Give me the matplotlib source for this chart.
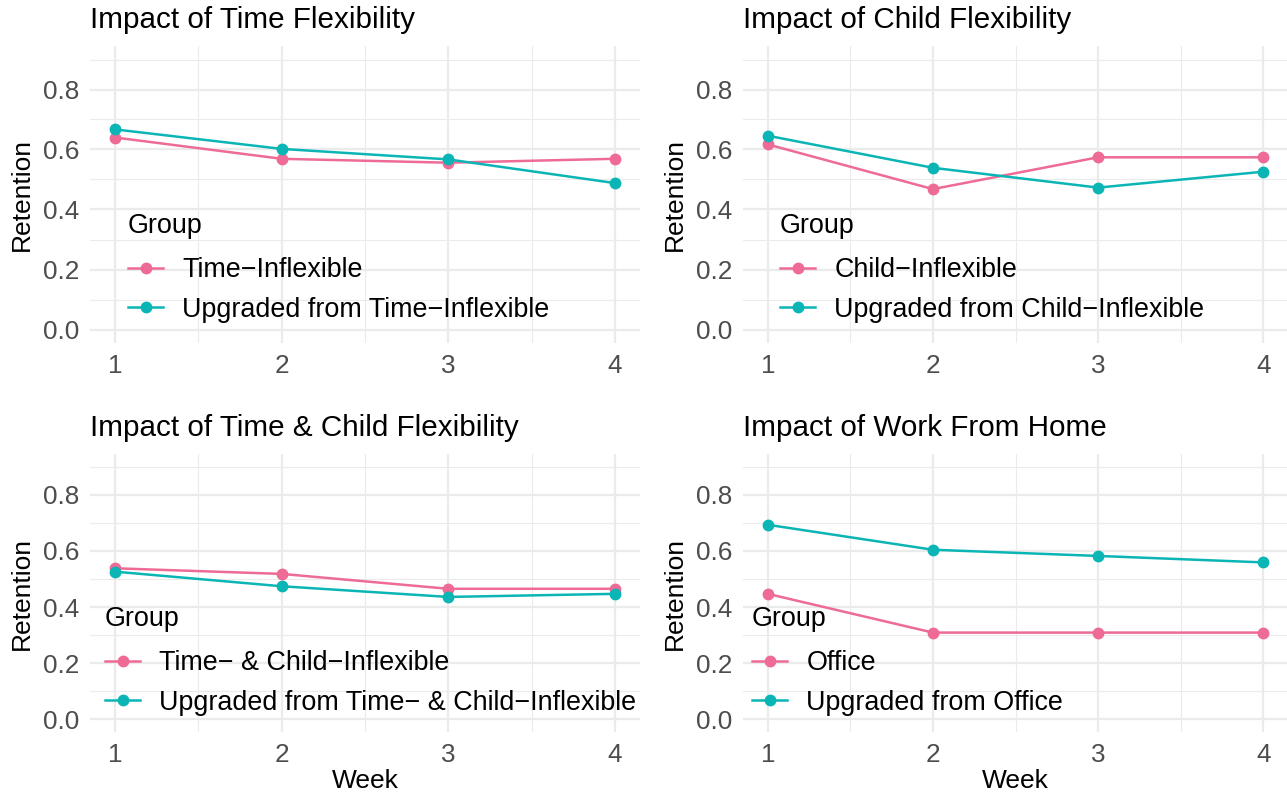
import matplotlib
matplotlib.use("Agg")
import matplotlib.pyplot as plt
from matplotlib.ticker import MultipleLocator

plt.rcParams['font.family'] = ['Liberation Sans', 'DejaVu Sans']

weeks = [1, 2, 3, 4]

titles = ["Impact of Time Flexibility", "Impact of Child Flexibility",
          "Impact of Time & Child Flexibility", "Impact of Work From Home"]

base_labels = ["Time\u2212Inflexible", "Child\u2212Inflexible",
               "Time\u2212 & Child\u2212Inflexible", "Office"]
upgraded_labels = ["Upgraded from Time\u2212Inflexible",
                   "Upgraded from Child\u2212Inflexible",
                   "Upgraded from Time\u2212 & Child\u2212Inflexible",
                   "Upgraded from Office"]

time_inflexible = [0.640, 0.569, 0.556, 0.569]
time_upgraded = [0.667, 0.602, 0.567, 0.488]
child_inflexible = [0.617, 0.468, 0.574, 0.574]
child_upgraded = [0.646, 0.539, 0.473, 0.526]
both_inflexible = [0.538, 0.518, 0.465, 0.465]
both_upgraded = [0.526, 0.474, 0.436, 0.447]
office = [0.447, 0.309, 0.309, 0.309]
office_upgraded = [0.693, 0.604, 0.582, 0.559]

base_series = [time_inflexible, child_inflexible, both_inflexible, office]
upgraded_series = [time_upgraded, child_upgraded, both_upgraded, office_upgraded]

PINK = "#EE6B96"
TEAL = "#0BB5B5"
GRID = "#EBEBEB"
TICK = "#4D4D4D"

W, H = 1287, 799
fig = plt.figure(figsize=(W / 100, H / 100), dpi=100)

# panel rectangles in pixels: left, top, right, bottom
panels = [(90, 46, 640, 343), (743, 46, 1288, 343),
          (90, 454, 640, 732), (743, 454, 1288, 732)]
legend_anchor = [(128, 213), (780, 213), (105, 606), (752, 606)]

for i in range(4):
    l, t, r, b = panels[i]
    ax = fig.add_axes([l / W, (H - b) / H, (r - l) / W, (b - t) / H])
    ax.set_xlim(0.85, 4.15)
    ax.set_ylim(-0.045, 0.945)
    ax.xaxis.set_major_locator(MultipleLocator(1))
    ax.xaxis.set_minor_locator(MultipleLocator(0.5))
    ax.yaxis.set_major_locator(MultipleLocator(0.2))
    ax.yaxis.set_minor_locator(MultipleLocator(0.1))
    ax.yaxis.set_major_formatter(plt.FuncFormatter(lambda v, p: f"{v:.1f}"))
    ax.grid(which='major', color=GRID, linewidth=1.6)
    ax.grid(which='minor', color=GRID, linewidth=0.8)
    ax.set_axisbelow(True)
    for s in ax.spines.values():
        s.set_visible(False)
    ax.tick_params(which='both', length=0)
    ax.tick_params(axis='y', labelsize=18.8, labelcolor=TICK, pad=8)
    ax.tick_params(axis='x', labelsize=18.8, labelcolor=TICK, pad=8)

    ax.plot(weeks, base_series[i], color=PINK, lw=1.8, marker='o', ms=7.5,
            label=base_labels[i])
    ax.plot(weeks, upgraded_series[i], color=TEAL, lw=1.8, marker='o', ms=7.5,
            label=upgraded_labels[i])

    ax.set_title(titles[i], loc='left', fontsize=21.3, pad=13, color='black')
    ax.set_ylabel("Retention", fontsize=19, labelpad=6)
    if i >= 2:
        ax.set_xlabel("Week", fontsize=19, labelpad=1)

    lx, ly = legend_anchor[i]
    leg = ax.legend(loc='upper left', bbox_to_anchor=(lx / W, (H - ly) / H),
                    bbox_transform=fig.transFigure, frameon=False,
                    title="Group", title_fontsize=19.4, fontsize=19.4,
                    alignment='left', borderpad=0, borderaxespad=0,
                    handlelength=1.3, handletextpad=0.72, labelspacing=0.5,
                    numpoints=1)
    leg._legend_box.sep = 13

fig.savefig("out.png", dpi=100)
